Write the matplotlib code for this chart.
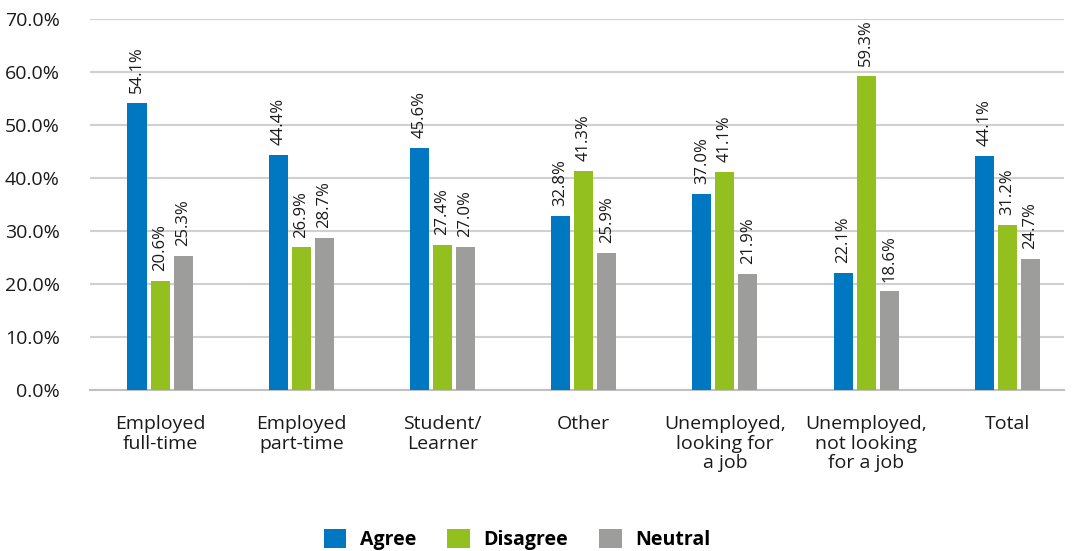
import matplotlib.pyplot as plt
import numpy as np

plt.rcParams['font.family'] = ['Open Sans', 'DejaVu Sans']

categories = ["Employed\nfull-time", "Employed\npart-time", "Student/\nLearner", "Other",
              "Unemployed,\nlooking for\na job", "Unemployed,\nnot looking\nfor a job", "Total"]
agree = [54.1, 44.4, 45.6, 32.8, 37.0, 22.1, 44.1]
disagree = [20.6, 26.9, 27.4, 41.3, 41.1, 59.3, 31.2]
neutral = [25.3, 28.7, 27.0, 25.9, 21.9, 18.6, 24.7]

series = [("Agree", agree, "#0078C1"),
          ("Disagree", disagree, "#93C01F"),
          ("Neutral", neutral, "#9D9D9C")]

fig = plt.figure(figsize=(10.73, 5.51), dpi=100)
ax = fig.add_axes([0.084, 0.292, 0.908, 0.674])

x = np.arange(len(categories))
width = 0.135
step = 0.163

for i, (name, vals, color) in enumerate(series):
    pos = x + (i - 1) * step
    ax.bar(pos, vals, width, color=color, label=name, zorder=3)
    for p, v in zip(pos, vals):
        ax.annotate(f"{v:.1f}%", (p, v), xytext=(0, 7), textcoords="offset points",
                    rotation=90, ha="center", va="bottom", fontsize=12, color="#1a1a1a")

ax.set_ylim(0, 70)
ax.set_xlim(-0.495, 6.404)
ax.set_yticks(np.arange(0, 71, 10))
ax.set_yticklabels([f"{t:.1f}%" for t in np.arange(0, 71, 10)], fontsize=14, color="#1a1a1a")
ax.set_xticks(x)
ax.set_xticklabels(categories, fontsize=14, color="#1a1a1a", va="top", linespacing=1.1)
ax.tick_params(axis="both", length=0)
ax.tick_params(axis="x", pad=18)
ax.tick_params(axis="y", pad=22)
ax.grid(axis="y", color="#d0d0d0", linewidth=1.5, zorder=0)
for s in ["top", "right", "left"]:
    ax.spines[s].set_visible(False)
ax.spines["bottom"].set_color("#c0c0c0")
ax.spines["bottom"].set_linewidth(1.5)

leg = fig.legend(loc="lower center", bbox_to_anchor=(0.482, -0.03), ncol=3, frameon=False,
                 prop={"size": 14, "weight": "bold"}, handlelength=1.15, handleheight=1.15,
                 columnspacing=1.6, handletextpad=0.7)

fig.savefig("out.png", dpi=100)
